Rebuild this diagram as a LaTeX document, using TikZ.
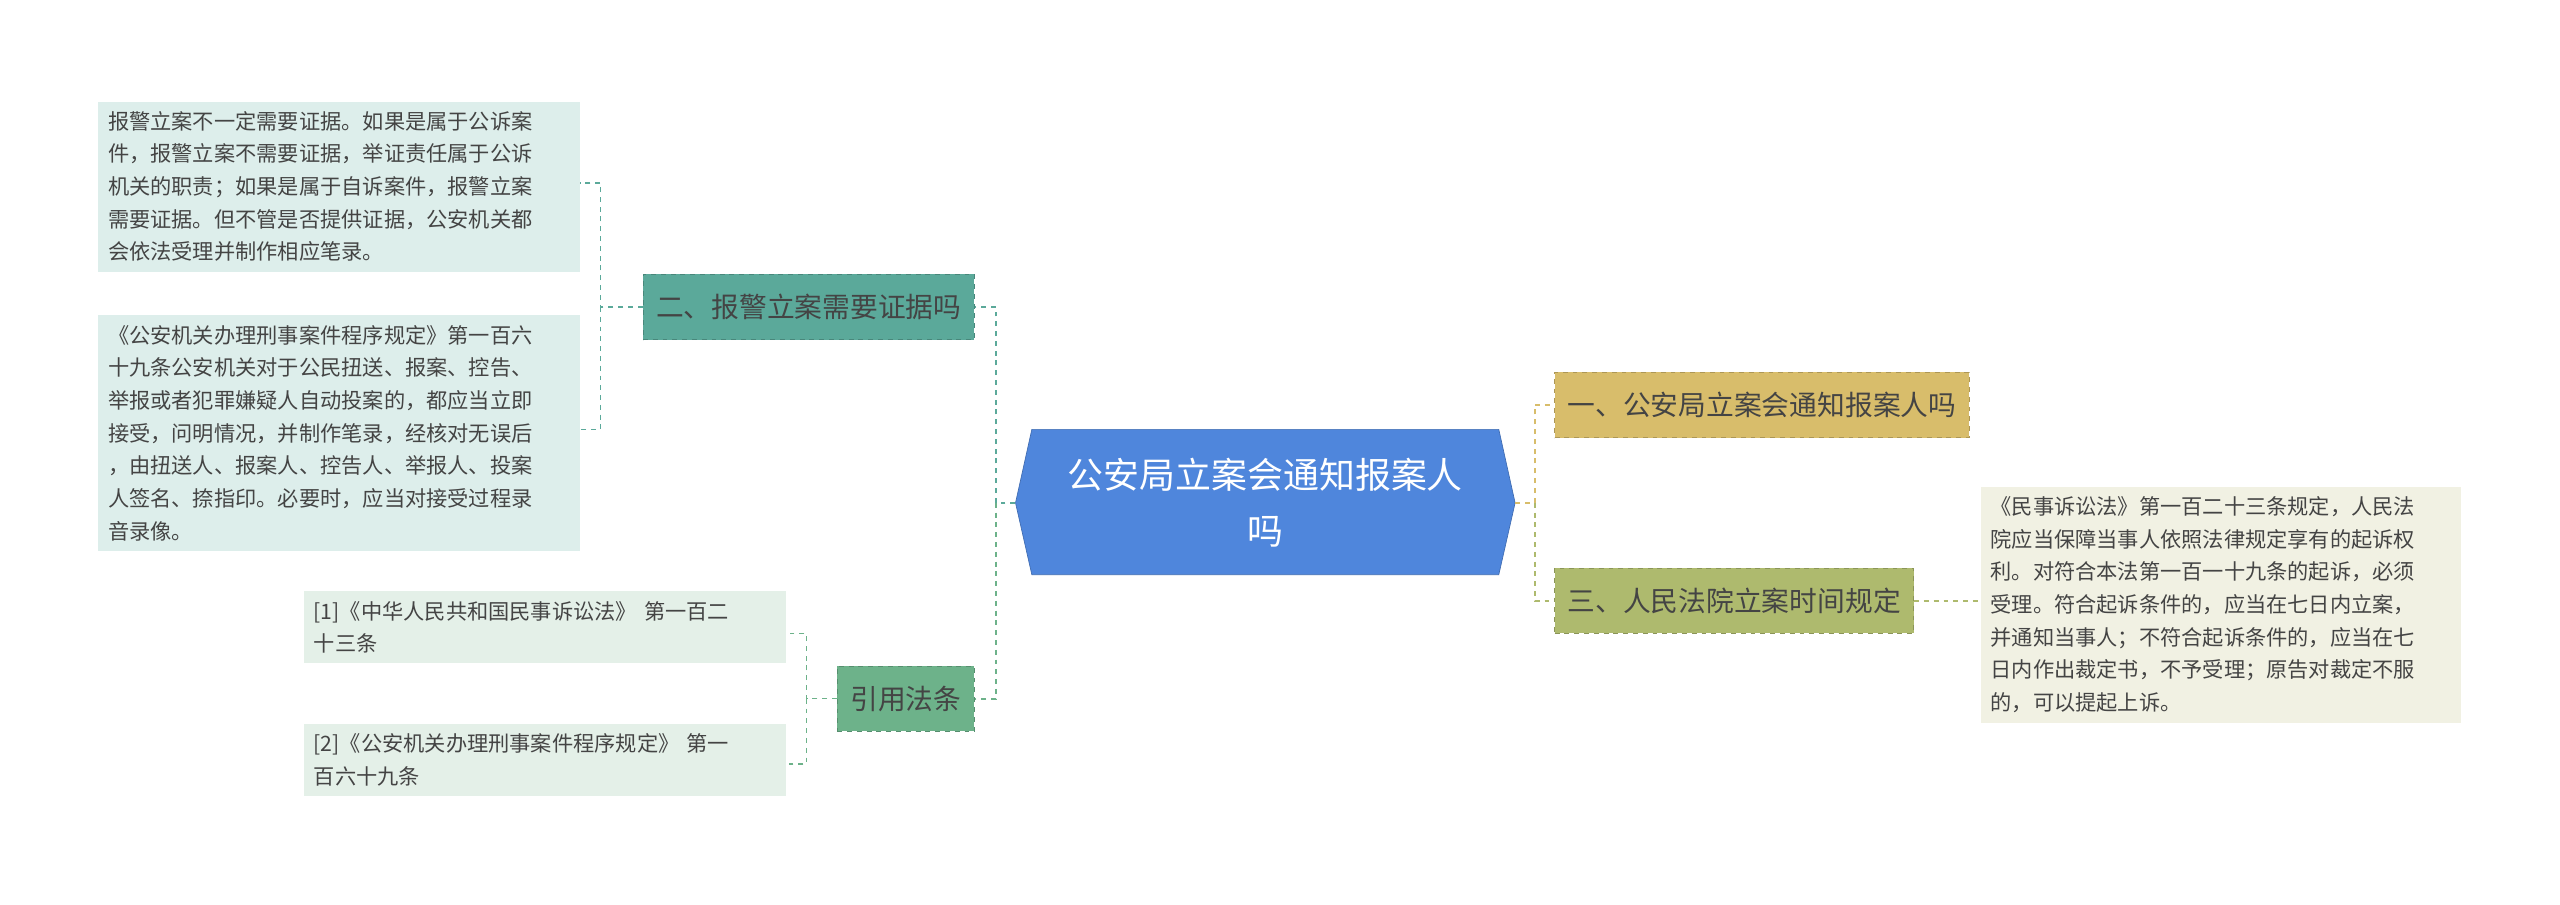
\documentclass[tikz,border=0pt]{standalone}
\usepackage{fontspec}
\setmainfont{Noto Sans CJK SC}
\usetikzlibrary{positioning}
\definecolor{cblue}{HTML}{4F86DC}
\definecolor{cgold}{HTML}{D8BD6B}
\definecolor{colive}{HTML}{AEBA6E}
\definecolor{cteal}{HTML}{5BA99A}
\definecolor{cgreen}{HTML}{6DB28A}
\definecolor{lteal}{HTML}{DDEEEB}
\definecolor{lgreen}{HTML}{E4F0E8}
\definecolor{lolive}{HTML}{F1F1E3}
\definecolor{txt}{HTML}{444444}
\tikzset{
 branch/.style={draw=#1!80!black,dashed,fill=#1,minimum height=40pt,inner xsep=8pt,font=\fontsize{17}{20}\selectfont,text=txt},
 leaf/.style={fill=#1,inner sep=6pt,align=left,font=\fontsize{13}{20}\selectfont,text=txt,anchor=north west},
 conn/.style={draw=#1,dashed,line width=1.2pt}
}
\begin{document}
\begin{tikzpicture}[x=1pt,y=-1pt]
\useasboundingbox[fill=white] (0,0) rectangle (1568,554);
% center
\fill[cblue,draw=cblue!80!black] (622,308)--(632,263)--(918,263)--(928,308)--(918,352)--(632,352)--cycle;
\node[minimum width=306pt,minimum height=89pt,align=center,text=white,font=\fontsize{22}{34}\selectfont] (c) at (775,308) {公安局立案会通知报案人\\吗};
% branches
\node[branch=cgold,anchor=west] (r1) at (952,248) {一、公安局立案会通知报案人吗};
\node[branch=colive,anchor=west] (r2) at (952,368) {三、人民法院立案时间规定};
\node[branch=cteal,anchor=east] (l1) at (597,188) {二、报警立案需要证据吗};
\node[branch=cgreen,anchor=east] (l2) at (597,428) {引用法条};
% leaves
\node[leaf=lolive,text width=282pt] (rl) at (1213,298) {《民事诉讼法》第一百二十三条规定，人民法\\院应当保障当事人依照法律规定享有的起诉权\\利。对符合本法第一百一十九条的起诉，必须\\受理。符合起诉条件的，应当在七日内立案，\\并通知当事人；不符合起诉条件的，应当在七\\日内作出裁定书，不予受理；原告对裁定不服\\的，可以提起上诉。};
\node[leaf=lteal,text width=283pt] (a1) at (60,62) {报警立案不一定需要证据。如果是属于公诉案\\件，报警立案不需要证据，举证责任属于公诉\\机关的职责；如果是属于自诉案件，报警立案\\需要证据。但不管是否提供证据，公安机关都\\会依法受理并制作相应笔录。};
\node[leaf=lteal,text width=283pt] (a2) at (60,193) {《公安机关办理刑事案件程序规定》第一百六\\十九条公安机关对于公民扭送、报案、控告、\\举报或者犯罪嫌疑人自动投案的，都应当立即\\接受，问明情况，并制作笔录，经核对无误后\\，由扭送人、报案人、控告人、举报人、投案\\人签名、捺指印。必要时，应当对接受过程录\\音录像。};
\node[leaf=lgreen,text width=283pt] (b1) at (186,362) {[1]《中华人民共和国民事诉讼法》 第一百二\\十三条};
\node[leaf=lgreen,text width=283pt] (b2) at (186,443) {[2]《公安机关办理刑事案件程序规定》 第一\\百六十九条};
% connectors
\coordinate (jl) at (610,308);
\coordinate (jr) at (940,308);
\draw[conn=cteal] (c.west) -- (jl) |- (l1.east);
\draw[conn=cgreen] (jl) |- (l2.east);
\draw[conn=cgold] (c.east) -- (jr) |- (r1.west);
\draw[conn=colive] (jr) |- (r2.west);
\draw[conn=colive] (r2.east) -- (rl.west|-r2.east);
\coordinate (ja) at (368,188);
\draw[conn=cteal,line width=0.8pt] (l1.west) -- (ja) |- (a1.east|-0,112) (ja) |- (a2.east|-0,263);
\coordinate (jb) at (494,428);
\draw[conn=cgreen,line width=0.8pt] (l2.west) -- (jb) |- (b1.east|-0,388) (jb) |- (b2.east|-0,468);
\end{tikzpicture}
\end{document}
